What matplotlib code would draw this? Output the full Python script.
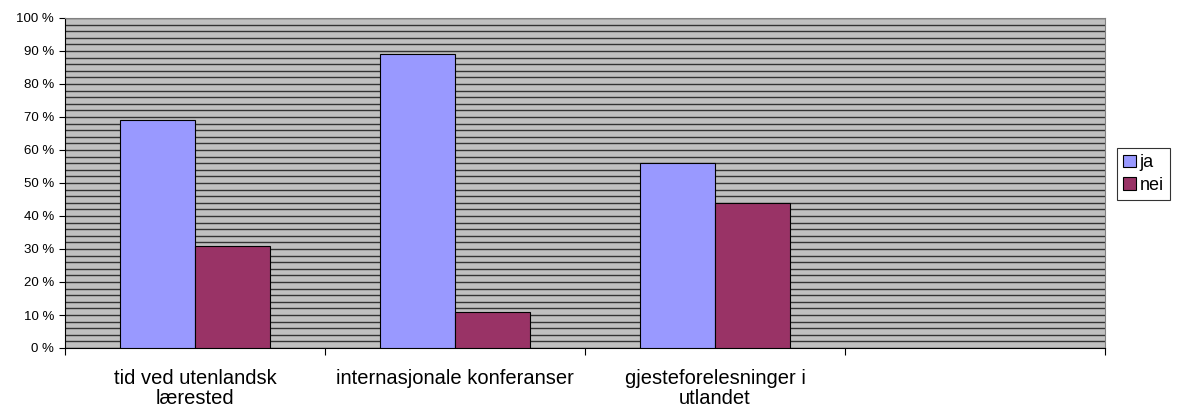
import numpy as np
import matplotlib
matplotlib.use("Agg")
import matplotlib.pyplot as plt
from matplotlib.ticker import MultipleLocator, FuncFormatter

# Data
categories = ["tid ved utenlandsk\nlærested", "internasjonale konferanser",
              "gjesteforelesninger i\nutlandet", ""]
ja = [69, 89, 56]
nei = [31, 11, 44]
series_names = ["ja", "nei"]
colors = ["#9999FF", "#993366"]

plt.rcParams["font.family"] = ["Liberation Sans", "DejaVu Sans"]

fig = plt.figure(figsize=(11.78, 4.07), dpi=100)
ax = fig.add_axes([65 / 1178, 1 - 348 / 407, 1040 / 1178, 330 / 407])
ax.set_facecolor("#C0C0C0")

n_slots = len(categories)
bw = 0.29
x = np.arange(len(ja)) + 0.5
ax.bar(x - bw / 2, ja, bw, color=colors[0], edgecolor="black", linewidth=0.8,
       label=series_names[0], zorder=3)
ax.bar(x + bw / 2, nei, bw, color=colors[1], edgecolor="black", linewidth=0.8,
       label=series_names[1], zorder=3)

ax.set_xlim(0, n_slots)
ax.set_ylim(0, 100)

# minor gridlines every 2 %
ax.yaxis.set_major_locator(MultipleLocator(10))
ax.yaxis.set_minor_locator(MultipleLocator(2))
ax.yaxis.set_major_formatter(FuncFormatter(lambda v, _: f"{int(v)} %"))
ax.grid(axis="y", which="both", color="#333333", linewidth=1.0, zorder=1)
ax.tick_params(axis="y", which="minor", length=0)
ax.tick_params(axis="y", which="major", length=4, labelsize=9.5, pad=4)

ax.set_xticks(np.arange(n_slots + 1))
ax.set_xticklabels([])
ax.set_xticks(np.arange(n_slots) + 0.5, minor=True)
ax.set_xticklabels(categories, minor=True, fontsize=14.5, linespacing=1.1)
ax.tick_params(axis="x", which="major", length=5, direction="out")
ax.tick_params(axis="x", which="minor", length=0, pad=15)

for side in ["top", "right"]:
    ax.spines[side].set_color("#808080")
ax.spines["left"].set_color("black")
ax.spines["bottom"].set_color("black")

leg = fig.legend(loc="center left", bbox_to_anchor=(1117 / 1178, 1 - 174 / 407),
                 fontsize=13, frameon=True, fancybox=False, edgecolor="black",
                 handlelength=0.7, handleheight=0.7, handletextpad=0.2,
                 borderpad=0.35, labelspacing=0.3, borderaxespad=0)
leg.get_frame().set_linewidth(0.8)

fig.savefig("out.png", dpi=100)
